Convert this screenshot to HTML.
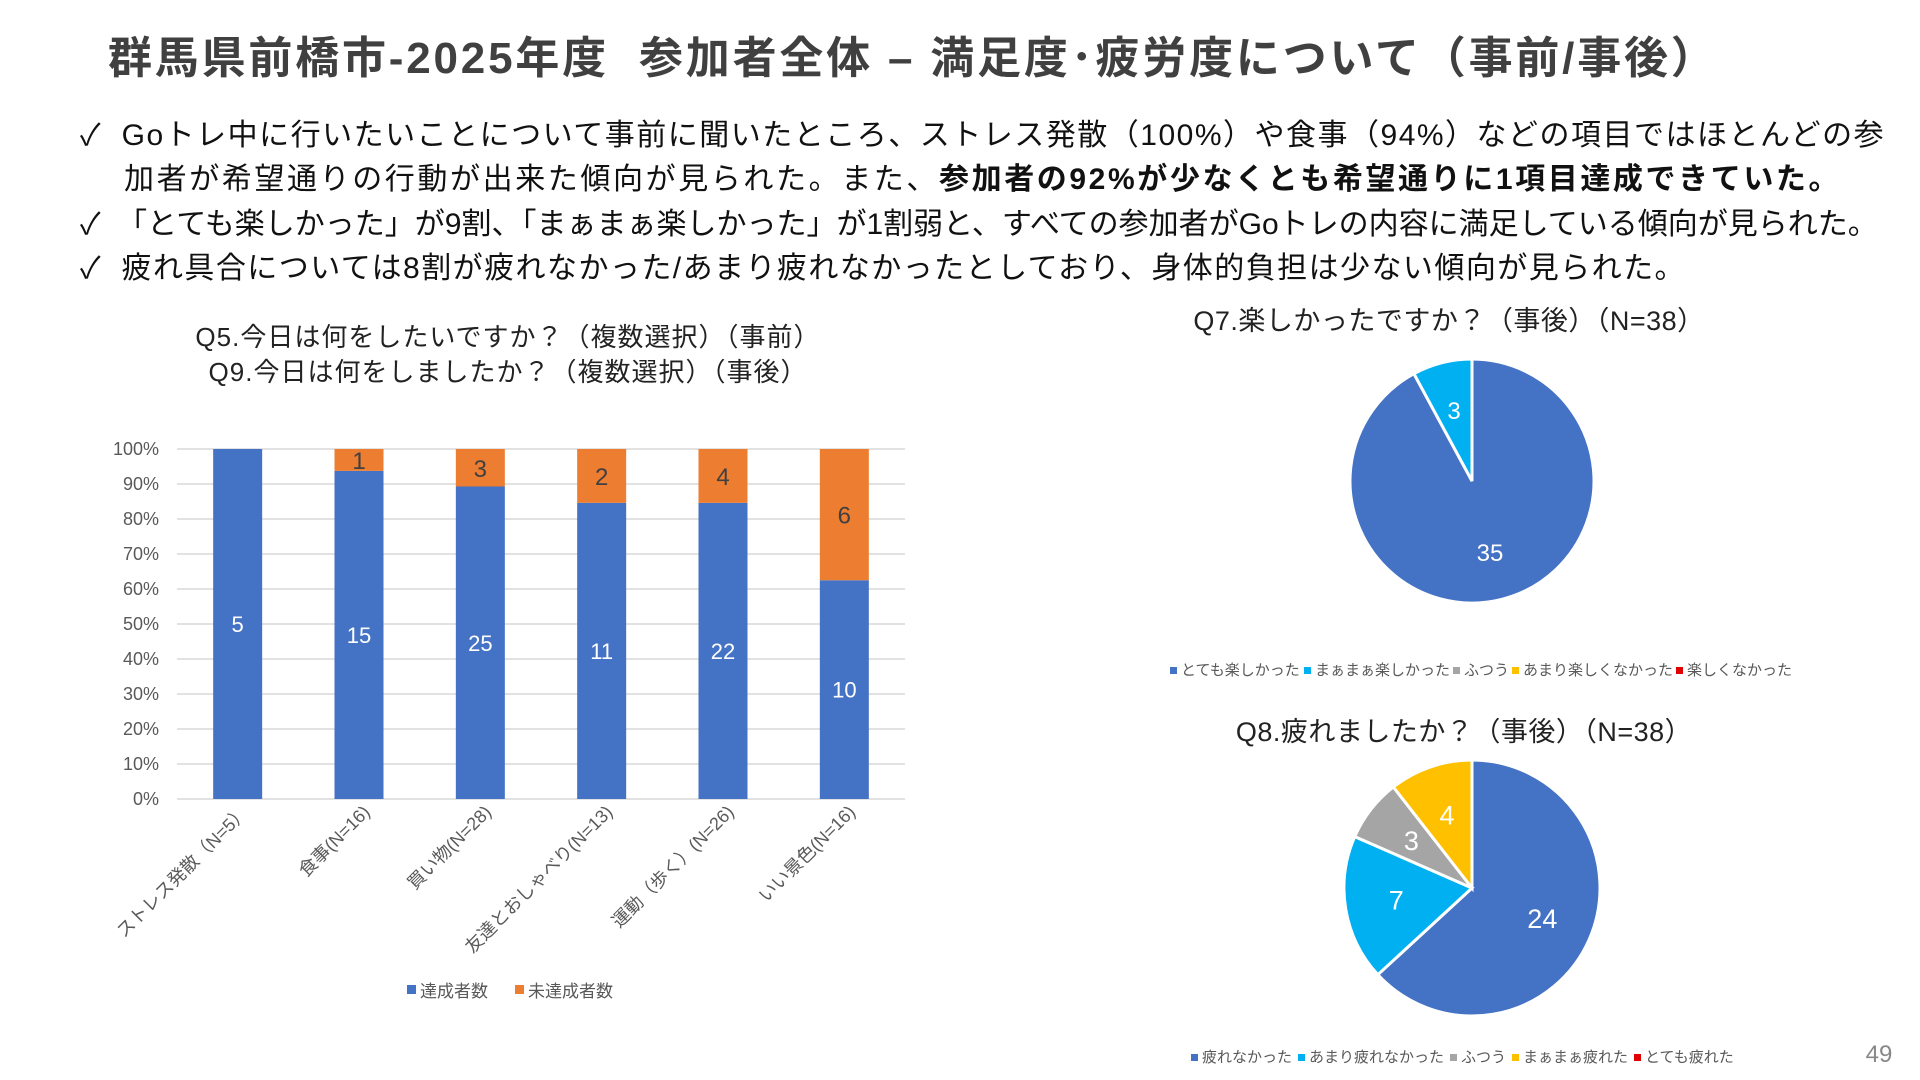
<!DOCTYPE html>
<html><head><meta charset="utf-8">
<style>
html,body{margin:0;padding:0;background:#fff;}
body{width:1920px;height:1080px;overflow:hidden;position:relative;font-family:"Liberation Sans","Noto Sans CJK JP",sans-serif;}
svg text{font-family:"Liberation Sans","Noto Sans CJK JP",sans-serif;}
.title{position:absolute;left:108px;top:22px;font-size:44px;letter-spacing:2.8px;font-weight:bold;color:#404040;white-space:nowrap;}
.bul{position:absolute;left:80px;font-size:30px;color:#111;white-space:nowrap;}
</style></head>
<body>
<div class="title">群馬県前橋市-2025年度&nbsp;&nbsp;参加者全体 – 満足度･疲労度について（事前/事後）</div>
<div class="bul" style="top:110px;letter-spacing:1.5px">✓&nbsp;&nbsp;Goトレ中に行いたいことについて事前に聞いたところ、ストレス発散（100%）や食事（94%）などの項目ではほとんどの参</div>
<div class="bul" style="top:154px;left:124px;letter-spacing:2.6px">加者が希望通りの行動が出来た傾向が見られた。また、<b>参加者の92%が少なくとも希望通りに1項目達成できていた。</b></div>
<div class="bul" style="top:199px">✓&nbsp;&nbsp;「とても楽しかった」が9割、「まぁまぁ楽しかった」が1割弱と、すべての参加者がGoトレの内容に満足している傾向が見られた。</div>
<div class="bul" style="top:243px;letter-spacing:1.45px">✓&nbsp;&nbsp;疲れ具合については8割が疲れなかった/あまり疲れなかったとしており、身体的負担は少ない傾向が見られた。</div>

<svg id="svg" width="1920" height="1080" style="position:absolute;left:0;top:0">
<text x="508" y="346" font-size="26" letter-spacing="1" text-anchor="middle" fill="#222">Q5.今日は何をしたいですか？（複数選択）（事前）</text>
<text x="508" y="381" font-size="26" letter-spacing="1" text-anchor="middle" fill="#222">Q9.今日は何をしましたか？（複数選択）（事後）</text>
<g id="bar"></g>
<text x="1449" y="330" font-size="27" letter-spacing="0.5" text-anchor="middle" fill="#222">Q7.楽しかったですか？（事後）（N=38）</text>
<g id="pie1"></g>
<text x="1464" y="741" font-size="27" letter-spacing="0.5" text-anchor="middle" fill="#222">Q8.疲れましたか？（事後）（N=38）</text>
<g id="pie2"></g>
<text x="1879" y="1062" font-size="24" text-anchor="middle" fill="#888">49</text>
</svg>

<script>
const categories = ["ストレス発散（N=5）","食事(N=16)","買い物(N=28)","友達とおしゃべり(N=13)","運動（歩く）(N=26)","いい景色(N=16)"];
const achieved = [5,15,25,11,22,10];
const notAchieved = [0,1,3,2,4,6];
const yTicks = ["0%","10%","20%","30%","40%","50%","60%","70%","80%","90%","100%"];
const pie1Labels = ["とても楽しかった","まぁまぁ楽しかった","ふつう","あまり楽しくなかった","楽しくなかった"];
const pie1Values = [35,3,0,0,0];
const pie2Labels = ["疲れなかった","あまり疲れなかった","ふつう","まぁまぁ疲れた","とても疲れた"];
const pie2Values = [24,7,3,4,0];

const NS="http://www.w3.org/2000/svg";
function mk(tag,attrs,parent,txt){const e=document.createElementNS(NS,tag);for(const k in attrs)e.setAttribute(k,attrs[k]);if(txt!==undefined)e.textContent=txt;parent.appendChild(e);return e;}
const cols=["#4472C4","#00B0F0","#A5A5A5","#FFC000","#E00000"];

const bar=document.getElementById('bar');
const X0=177,X1=905,Y0=799,Y1=449;
const yS=v=>Y0-(Y0-Y1)*v;
const step=(X1-X0)/categories.length;
const xC=i=>X0+step*(i+0.5);
const bw=49;
yTicks.forEach((t,i)=>{
  const y=yS(i/10);
  const l=mk('line',{x1:X0,x2:X1,y1:y,y2:y,stroke:'#d9d9d9','stroke-width':1.5},bar);
  
  
  const tx=mk('text',{x:159,y:y+6,'font-size':18,'text-anchor':'end',fill:'#595959'},bar,t);
  
  
});
categories.forEach((c,i)=>{
  const tot=achieved[i]+notAchieved[i];
  const fa=achieved[i]/tot;
  const r1=mk('rect',{x:xC(i)-bw/2,y:yS(fa),width:bw,height:Y0-yS(fa),fill:'#4472C4'},bar);
  
  
  const t1=mk('text',{x:xC(i),y:yS(fa/2)+8,'font-size':22,'text-anchor':'middle',fill:'#fff'},bar,achieved[i]);
  
  
  if(notAchieved[i]>0){
    const r2=mk('rect',{x:xC(i)-bw/2,y:Y1,width:bw,height:yS(fa)-Y1,fill:'#ED7D31'},bar);
    
    
    const t2=mk('text',{x:xC(i),y:yS((1+fa)/2)+9,'font-size':24,'text-anchor':'middle',fill:'#404040'},bar,notAchieved[i]);
    
    
  }
  const xl=mk('text',{x:0,y:0,'font-size':18,'text-anchor':'end',fill:'#595959',transform:`translate(${xC(i)+12},${Y0+14}) rotate(-45)`},bar,c);
  
  
});
[["達成者数","#4472C4",407],["未達成者数","#ED7D31",515]].forEach(([n,c,x])=>{
  const r=mk('rect',{x:x,y:985,width:9,height:9,fill:c},bar);
  
  
  const t=mk('text',{x:x+13,y:997,'font-size':17,fill:'#595959'},bar,n);
  
  
});

function pie(gid,labels,values,cx,cy,r,legY,legX0,labelSizes,gap){
  const g=document.getElementById(gid);
  const tot=values.reduce((a,b)=>a+b,0);
  let a0=0;
  values.forEach((v,i)=>{
    if(v<=0)return;
    const a1=a0+v/tot*2*Math.PI;
    const p=(a)=>[cx+r*Math.sin(a),cy-r*Math.cos(a)];
    const [x0,y0]=p(a0),[x1,y1]=p(a1);
    const large=(a1-a0)>Math.PI?1:0;
    const s=mk('path',{d:`M${cx},${cy}L${x0},${y0}A${r},${r} 0 ${large} 1 ${x1},${y1}Z`,fill:cols[i],stroke:'#fff','stroke-width':3},g);
    
    
    const am=(a0+a1)/2, rr=r*0.6;
    const t=mk('text',{x:cx+rr*Math.sin(am),y:cy-rr*Math.cos(am)+9,'font-size':labelSizes,'text-anchor':'middle',fill:'#fff'},g,v);
    
    
    a0=a1;
  });
  let x=legX0;
  labels.forEach((l,i)=>{
    const r2=mk('rect',{x:x,y:legY-8,width:7,height:7,fill:cols[i]},g);
    
    
    const t=mk('text',{x:x+11,y:legY,'font-size':15,fill:'#595959'},g,l);
    
    
    x+=11+l.length*15+gap;
  });
}
pie('pie1',pie1Labels,pie1Values,1472,481,122,675,1170,24,3);
pie('pie2',pie2Labels,pie2Values,1472,888,128,1062,1191,27,6);
</script>
</body></html>
